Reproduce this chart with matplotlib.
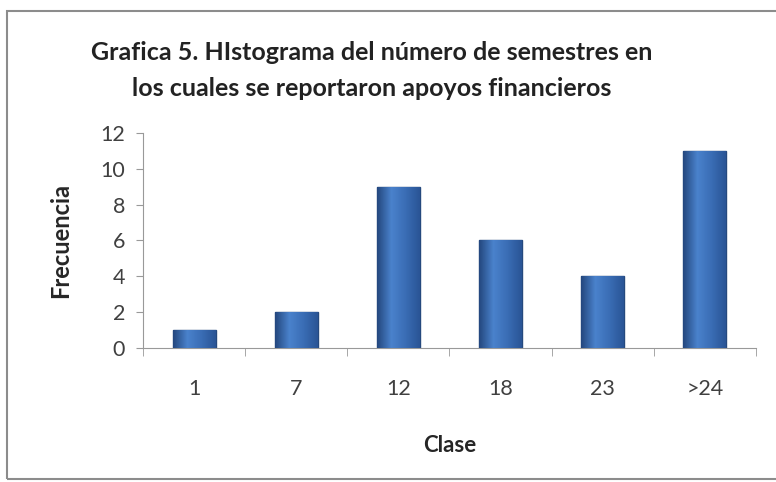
import numpy as np
import matplotlib.pyplot as plt
from matplotlib.colors import LinearSegmentedColormap
from matplotlib.patches import Rectangle

clases = ["1", "7", "12", "18", "23", ">24"]
frecuencia = [1, 2, 9, 6, 4, 11]

plt.rcParams['font.family'] = ['Lato', 'DejaVu Sans']

fig = plt.figure(figsize=(7.76, 4.82), dpi=100)
ax = fig.add_axes([143 / 776, 1 - 348 / 482, (756 - 143) / 776, (348 - 133) / 482])

x = np.arange(len(clases))
bars = ax.bar(x, frecuencia, width=0.42, color="#3a6db5", edgecolor="#25497e", linewidth=1.0, zorder=2)

# sombreado horizontal dentro de cada barra
cmap = LinearSegmentedColormap.from_list("barra", ["#24487f", "#4a82cc", "#3a6db5", "#2a5596"])
grad = np.linspace(0, 1, 64).reshape(1, -1)
for b in bars:
    x0, w, h = b.get_x(), b.get_width(), b.get_height()
    im = ax.imshow(grad, cmap=cmap, extent=[x0, x0 + w, 0, h], aspect="auto", zorder=3)
    im.set_clip_path(b)

ax.set_xlim(-0.5, len(clases) - 0.5)
ax.set_ylim(0, 12)
ax.set_yticks(range(0, 13, 2))
ax.set_xticks(x)
ax.set_xticklabels(clases)
ax.set_xticks(np.arange(-0.5, len(clases)), minor=True)
ax.tick_params(axis="x", which="major", length=0, pad=22, labelsize=15.5, colors="#404040")
ax.tick_params(axis="x", which="minor", length=6, color="#999999", direction="out")
ax.tick_params(axis="y", length=5, color="#999999", labelsize=15.5, labelcolor="#404040", pad=8)
for s in ["top", "right"]:
    ax.spines[s].set_visible(False)
ax.spines["left"].set_color("#999999")
ax.spines["bottom"].set_color("#999999")

ax.set_xlabel("Clase", fontsize=16, fontweight="bold", color="#262626", labelpad=26)
ax.set_ylabel("Frecuencia", fontsize=17, fontweight="bold", color="#262626", labelpad=20)

fig.text(372 / 776, 1 - 52 / 482, "Grafica 5. HIstograma del número de semestres en",
         ha="center", va="center", fontsize=18, fontweight="bold", color="#222222")
fig.text(372 / 776, 1 - 88 / 482, "los cuales se reportaron apoyos financieros",
         ha="center", va="center", fontsize=18, fontweight="bold", color="#222222")

fig.patches.append(Rectangle((7 / 776, 3 / 482), 1.2, 1 - 14 / 482, transform=fig.transFigure,
                             fill=False, edgecolor="#8c8c8c", linewidth=1.5))

fig.savefig("out.png", dpi=100)
